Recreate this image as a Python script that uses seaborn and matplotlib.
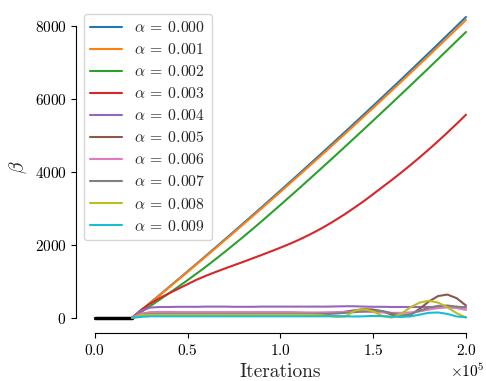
import pandas as pd
import matplotlib
matplotlib.use("Agg")
import matplotlib.pyplot as plt
import seaborn as sns

# ---- data ----
ITERATIONS = list(range(20000, 200001, 5000))   # shared x grid, 37 points

WARMUP_X = [0, 20000]
WARMUP_Y = [0, 0]

ALPHAS = ["0.000", "0.001", "0.002", "0.003", "0.004",
          "0.005", "0.006", "0.007", "0.008", "0.009"]

beta_000 = [0, 210, 421, 633, 846, 1060, 1275, 1492, 1709, 1927, 2147, 2368, 2590,
            2812, 3036, 3262, 3488, 3715, 3943, 4173, 4403, 4634, 4867, 5101, 5336,
            5572, 5809, 6047, 6286, 6526, 6768, 7011, 7254, 7499, 7745, 7992, 8239]
beta_001 = [0, 208, 416, 626, 837, 1049, 1262, 1476, 1691, 1907, 2125, 2343, 2563,
            2783, 3005, 3228, 3452, 3677, 3903, 4130, 4358, 4587, 4818, 5049, 5282,
            5516, 5751, 5986, 6223, 6461, 6701, 6941, 7182, 7425, 7669, 7913, 8158]
beta_002 = [0, 162, 331, 503, 676, 855, 1035, 1222, 1409, 1607, 1807, 2013, 2220,
            2434, 2651, 2872, 3093, 3318, 3543, 3772, 4001, 4231, 4463, 4697, 4931,
            5167, 5403, 5641, 5879, 6119, 6360, 6603, 6845, 7090, 7335, 7582, 7828]
beta_003 = [0, 225, 400, 545, 675, 800, 925, 1050, 1157, 1257, 1352, 1444, 1536,
            1631, 1727, 1824, 1924, 2028, 2140, 2262, 2393, 2535, 2688, 2850, 3022,
            3200, 3390, 3584, 3776, 3975, 4182, 4394, 4614, 4841, 5075, 5315, 5563]
beta_004 = [0, 200, 285, 300, 300, 305, 305, 305, 310, 310, 310, 305, 305,
            305, 310, 310, 310, 310, 310, 310, 310, 310, 315, 320, 320,
            310, 305, 305, 300, 300, 300, 300, 300, 300, 300, 300, 295]
beta_005 = [0, 90, 110, 115, 115, 115, 115, 115, 115, 115, 115, 115, 115,
            115, 115, 115, 115, 115, 115, 115, 115, 120, 140, 170, 210,
            240, 230, 180, 90, 30, 80, 250, 450, 600, 640, 540, 340]
beta_006 = [0, 120, 160, 165, 165, 160, 160, 160, 160, 160, 160, 160, 160,
            160, 160, 160, 160, 160, 155, 150, 150, 155, 160, 165, 170,
            170, 160, 150, 140, 140, 150, 180, 230, 270, 290, 270, 220]
beta_007 = [0, 80, 105, 110, 110, 110, 110, 110, 110, 110, 110, 110, 110,
            110, 110, 110, 110, 110, 110, 110, 110, 110, 120, 140, 160,
            180, 200, 190, 130, 70, 100, 200, 280, 330, 340, 310, 280]
beta_008 = [0, 80, 90, 90, 90, 90, 90, 90, 90, 90, 90, 90, 90,
            90, 90, 90, 90, 90, 90, 90, 85, 60, 30, 40, 200,
            240, 180, 50, 10, 110, 290, 420, 470, 420, 290, 130, 10]
beta_009 = [0, 30, 45, 45, 45, 45, 45, 45, 45, 45, 45, 45, 45,
            45, 45, 45, 45, 45, 45, 45, 45, 45, 50, 45, 40,
            45, 55, 50, 35, 30, 40, 90, 140, 150, 110, 40, 20]

series = [beta_000, beta_001, beta_002, beta_003, beta_004,
          beta_005, beta_006, beta_007, beta_008, beta_009]

# ---- long-form table for seaborn ----
rows = []
for a, vals in zip(ALPHAS, series):
    label = rf"$\alpha\:=\:{a}$"
    for it, b in zip(ITERATIONS, vals):
        rows.append({"iteration": it, "beta": b, "alpha": label})
df = pd.DataFrame(rows)

# ---- style ----
sns.set_style("ticks", {"axes.edgecolor": "black",
                        "xtick.color": "black", "ytick.color": "black"})
plt.rcParams["font.family"] = "serif"
plt.rcParams["font.serif"] = ["cmr10", "DejaVu Serif"]
plt.rcParams["mathtext.fontset"] = "cm"
plt.rcParams["axes.formatter.use_mathtext"] = True
plt.rcParams["axes.unicode_minus"] = False

fig, ax = plt.subplots(figsize=(4.86, 3.81), dpi=100)

ax.plot(WARMUP_X, WARMUP_Y, color="black", linewidth=2.5)

sns.lineplot(
    data=df,
    x="iteration",
    y="beta",
    hue="alpha",
    palette=sns.color_palette("tab10", 10),
    linewidth=1.5,
    ax=ax,
)

ax.ticklabel_format(axis="x", style="sci", scilimits=(0, 0))
ax.set_yticks([0, 2000, 4000, 6000, 8000])
ax.set_xlabel("Iterations", fontsize=14)
ax.set_ylabel(r"$\beta$", fontsize=14)
ax.tick_params(labelsize=11)
ax.xaxis.get_offset_text().set_fontsize(11)

sns.move_legend(ax, "upper left", bbox_to_anchor=(0.0, 0.988), title=None,
                fontsize=11.3, labelspacing=0.45, frameon=True)

sns.despine(ax=ax, trim=True)

fig.subplots_adjust(left=0.157, right=0.997, bottom=0.126, top=0.995)
fig.savefig("out.png", dpi=100)
